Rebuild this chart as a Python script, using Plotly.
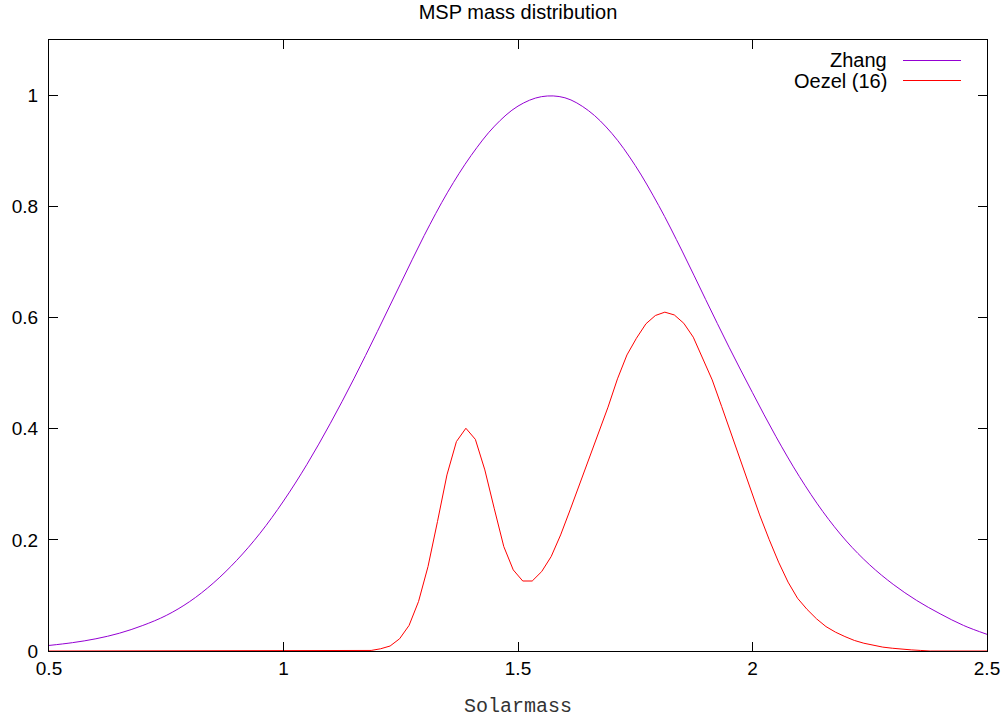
import plotly.graph_objects as go

# ---- data ----
zhang_x = [0.50, 0.55, 0.60, 0.65, 0.70, 0.75, 0.80, 0.85, 0.90, 0.95, 1.00,
           1.05, 1.10, 1.15, 1.20, 1.25, 1.30, 1.35, 1.40, 1.45, 1.50,
           1.55, 1.60, 1.65, 1.70, 1.75, 1.80, 1.85, 1.90, 1.95, 2.00,
           2.05, 2.10, 2.15, 2.20, 2.25, 2.30, 2.35, 2.40, 2.45, 2.50]
zhang_y = [0.010, 0.015, 0.022, 0.032, 0.046, 0.064, 0.089, 0.122, 0.163, 0.212, 0.270,
           0.336, 0.410, 0.490, 0.575, 0.662, 0.748, 0.826, 0.892, 0.945, 0.981,
           0.998, 0.996, 0.973, 0.932, 0.874, 0.802, 0.720, 0.633, 0.547, 0.465,
           0.386, 0.314, 0.251, 0.198, 0.155, 0.120, 0.091, 0.067, 0.046, 0.030]

oezel_x = [0.5, 1.1667, 1.1869, 1.2071, 1.2273, 1.2475, 1.2677, 1.2879, 1.3081,
           1.3283, 1.3485, 1.3687, 1.3889, 1.4091, 1.4293, 1.4495, 1.4697, 1.4899,
           1.5101, 1.5303, 1.5505, 1.5707, 1.5909, 1.6111, 1.6313, 1.6515, 1.6717,
           1.6919, 1.7121, 1.7323, 1.7525, 1.7727, 1.7929, 1.8131, 1.8333, 1.8535,
           1.8737, 1.8939, 1.9141, 1.9343, 1.9545, 1.9747, 1.9949, 2.0152, 2.0354,
           2.0556, 2.0758, 2.0960, 2.1162, 2.1364, 2.1566, 2.1768, 2.1970, 2.2172,
           2.2374, 2.2576, 2.2778, 2.2980, 2.3182, 2.3384, 2.3586, 2.3788, 2.5]
oezel_y = [0.0, 0.0, 0.001, 0.004, 0.009, 0.022, 0.046, 0.089, 0.152,
           0.233, 0.317, 0.377, 0.401, 0.381, 0.326, 0.256, 0.188, 0.146,
           0.126, 0.126, 0.143, 0.170, 0.209, 0.254, 0.301, 0.346, 0.392,
           0.439, 0.490, 0.533, 0.563, 0.589, 0.604, 0.610, 0.605, 0.590,
           0.565, 0.527, 0.488, 0.440, 0.392, 0.344, 0.293, 0.245, 0.201,
           0.160, 0.124, 0.095, 0.075, 0.058, 0.044, 0.034, 0.026, 0.019,
           0.014, 0.010, 0.007, 0.005, 0.003, 0.002, 0.001, 0.0, 0.0]

x_ticks = [0.5, 1.0, 1.5, 2.0, 2.5]
x_tick_text = ["0.5", "1", "1.5", "2", "2.5"]
y_ticks = [0, 0.2, 0.4, 0.6, 0.8, 1.0]
y_tick_text = ["0", "0.2", "0.4", "0.6", "0.8", "1"]

series_names = ["Zhang", "Oezel (16)"]
series_colors = ["#9400d3", "#ff0000"]

# ---- figure ----
fig = go.Figure()
fig.add_trace(go.Scatter(x=zhang_x, y=zhang_y, mode="lines", name=series_names[0],
                         line=dict(color=series_colors[0], width=1, shape="spline"),
                         showlegend=False))
fig.add_trace(go.Scatter(x=oezel_x, y=oezel_y, mode="lines", name=series_names[1],
                         line=dict(color=series_colors[1], width=1),
                         showlegend=False))

sans = "Liberation Sans, Arial, sans-serif"
tick_font = dict(family=sans, size=19, color="black")

fig.update_layout(
    width=1006, height=718,
    margin=dict(l=49, r=19, t=40, b=67, autoexpand=False),
    paper_bgcolor="white", plot_bgcolor="white",
    title=dict(text="MSP mass distribution", x=0.5, xref="paper",
               y=1 - 12 / 718, yref="container", yanchor="middle", automargin=False,
               font=dict(family=sans, size=20, color="black")),
    xaxis=dict(range=[0.5, 2.5], tickvals=x_ticks, ticktext=x_tick_text,
               ticks="inside", ticklen=9, tickcolor="black", tickwidth=1,
               showline=True, linecolor="black", linewidth=1, mirror="ticks",
               showgrid=False, zeroline=False, tickfont=tick_font, automargin=False,
               title=dict(text="Solarmass", standoff=20,
                          font=dict(family="Liberation Mono, Courier New, monospace",
                                    size=20, color="#333333"))),
    yaxis=dict(range=[0, 1.1], tickvals=y_ticks, ticktext=y_tick_text,
               ticks="inside", ticklen=9, tickcolor="black", tickwidth=1,
               showline=True, linecolor="black", linewidth=1, mirror="ticks",
               showgrid=False, zeroline=False, tickfont=tick_font, automargin=False,
               ticklabelstandoff=6),
)

# gnuplot-style key: text right-aligned, line sample to its right
for i, (name, color) in enumerate(zip(series_names, series_colors)):
    ypx = 60.5 + 20 * i
    yfrac = 1 - (ypx - 40) / 611
    fig.add_annotation(xref="paper", yref="paper", x=(889 - 49) / 938, y=yfrac,
                       text=name, showarrow=False, xanchor="right", yanchor="middle",
                       font=dict(family=sans, size=20, color="black"))
    fig.add_shape(type="line", xref="paper", yref="paper",
                  x0=(903 - 49) / 938, x1=(961 - 49) / 938, y0=yfrac, y1=yfrac,
                  line=dict(color=color, width=1))

fig.write_html("out.html")
